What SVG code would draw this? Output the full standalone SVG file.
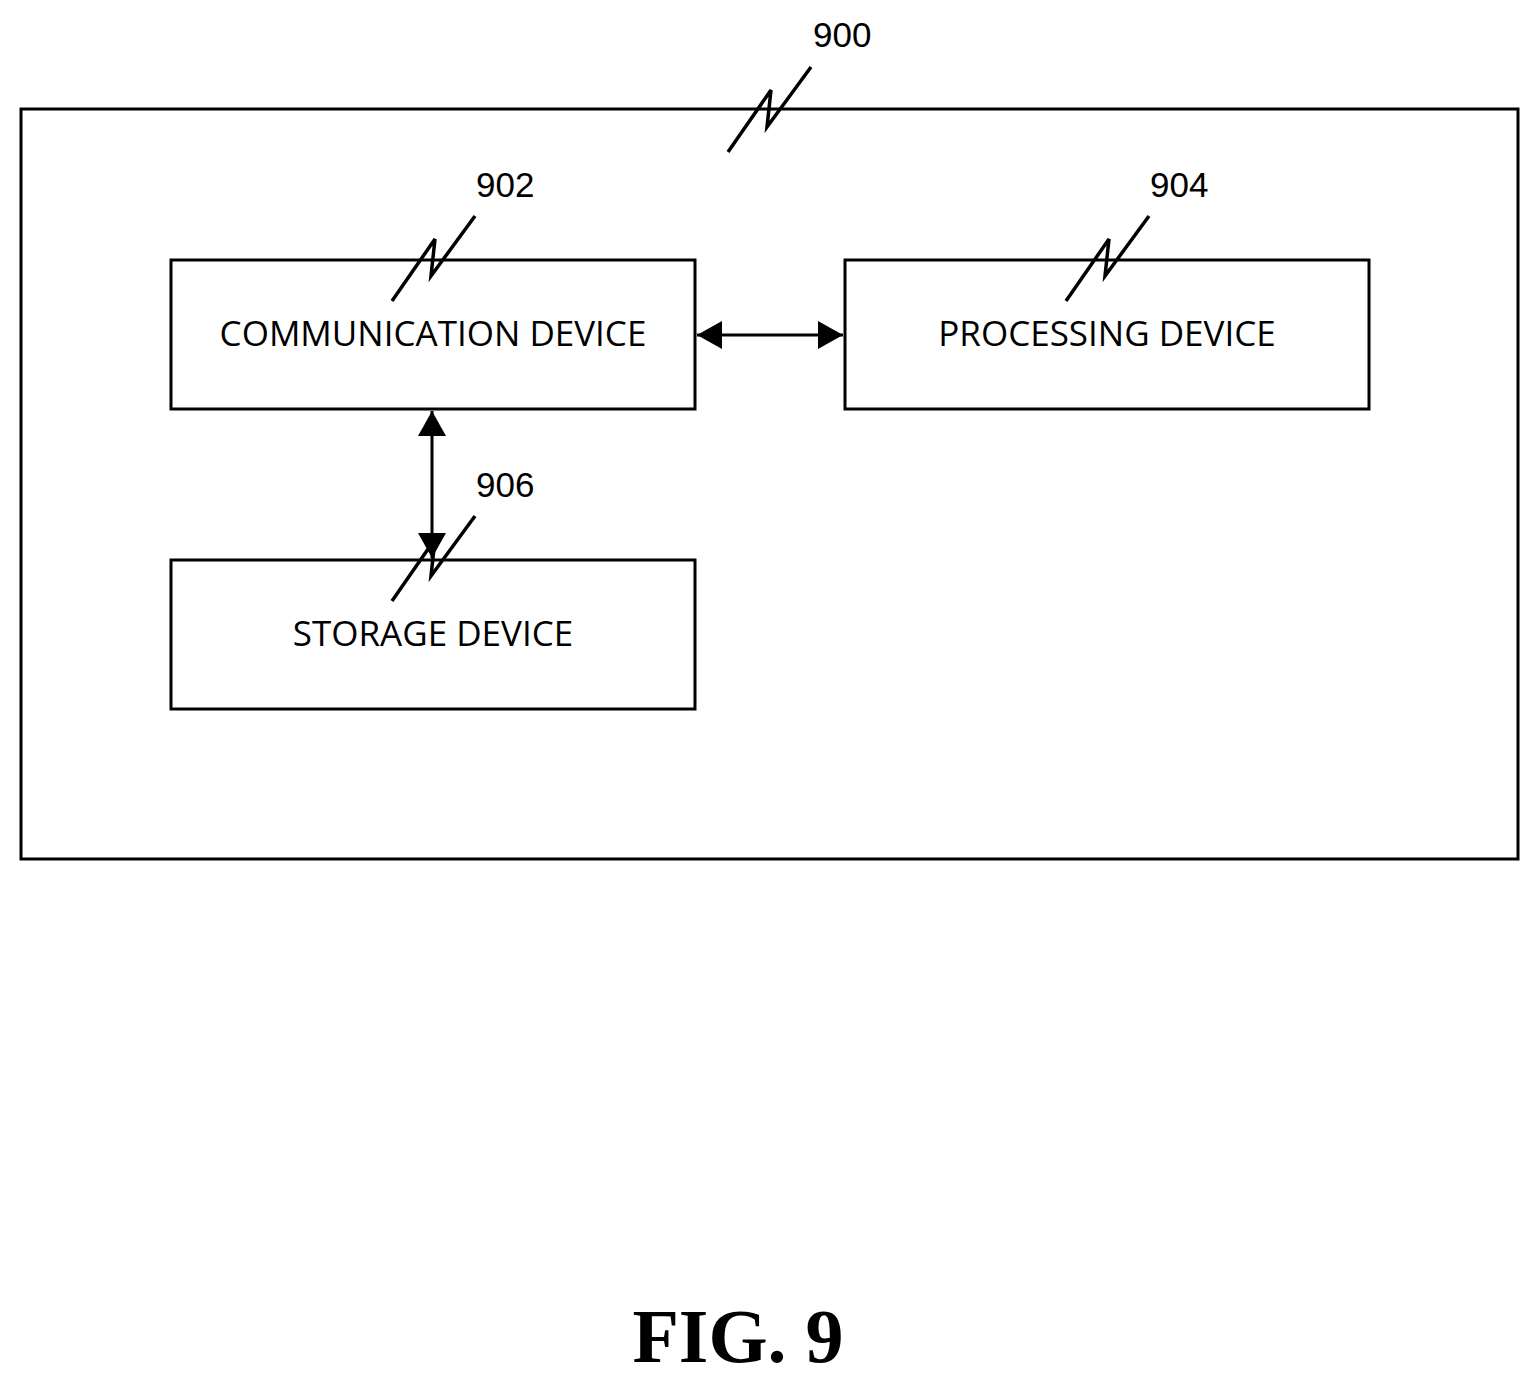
<svg xmlns="http://www.w3.org/2000/svg" width="1540" height="1382" viewBox="0 0 1540 1382">
<style>
.box{fill:#fff;stroke:#000;stroke-width:3}
.t{font-family:"Open Sans","Liberation Sans",sans-serif;font-size:35px;fill:#000;text-anchor:middle}
.n{font-family:"Liberation Sans",sans-serif;font-size:35px;fill:#000}
.lead{fill:none;stroke:#000;stroke-width:3.5;stroke-linejoin:miter}
.c{stroke:#000;stroke-width:3;fill:none}
</style>
<defs>
<marker id="ah" viewBox="0 0 25 28" refX="25" refY="14" markerWidth="25" markerHeight="28" markerUnits="userSpaceOnUse" orient="auto-start-reverse">
<path d="M0,0 L25,14 L0,28 z" fill="#000"/>
</marker>
<path id="sq" d="M0,0 L43,-62 L39,-25 L83,-85"/>
</defs>
<rect width="1540" height="1382" fill="#fff"/>
<g id="n900">
<rect class="box" x="21" y="109" width="1497" height="750"/>
<text class="n" x="813" y="47">900</text>
<use href="#sq" class="lead" x="728" y="152"/>
</g>
<g id="n902">
<rect class="box" x="171" y="260" width="524" height="149"/>
<text class="t" x="433" y="346">COMMUNICATION DEVICE</text>
<text class="n" x="476" y="197">902</text>
<use href="#sq" class="lead" x="392" y="301"/>
</g>
<g id="n904">
<rect class="box" x="845" y="260" width="524" height="149"/>
<text class="t" x="1107" y="346">PROCESSING DEVICE</text>
<text class="n" x="1150" y="197">904</text>
<use href="#sq" class="lead" x="1066" y="301"/>
</g>
<g id="n906">
<rect class="box" x="171" y="560" width="524" height="149"/>
<text class="t" x="433" y="646">STORAGE DEVICE</text>
<text class="n" x="476" y="497">906</text>
</g>
<g id="connectors">
<line class="c" x1="697" y1="335" x2="843" y2="335" marker-start="url(#ah)" marker-end="url(#ah)"/>
<line class="c" x1="432" y1="411" x2="432" y2="558" marker-start="url(#ah)" marker-end="url(#ah)"/>
</g>
<use href="#sq" class="lead" x="392" y="601"/>
<text x="738" y="1362" font-family="Liberation Serif,serif" font-weight="bold" font-size="76" text-anchor="middle">FIG. 9</text>
</svg>
